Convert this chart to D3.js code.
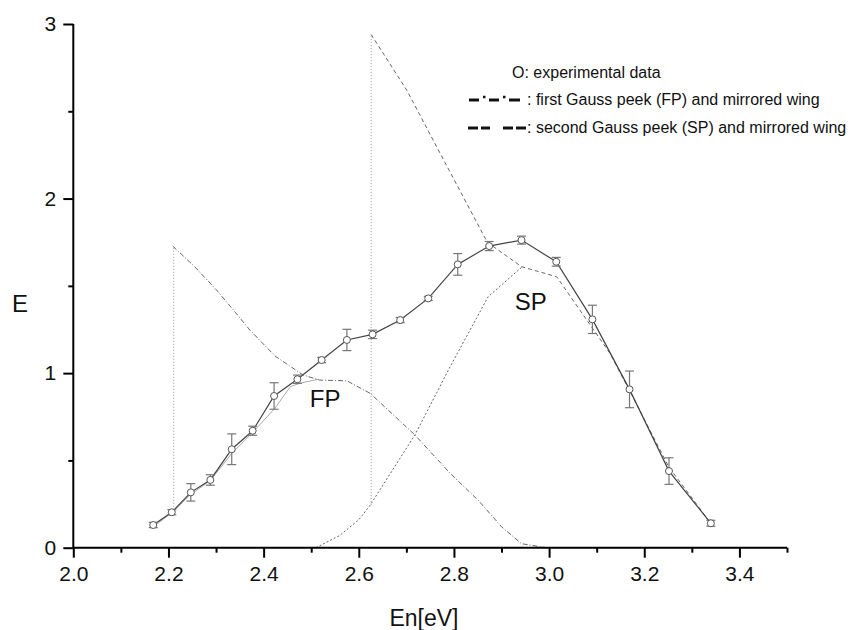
<!DOCTYPE html>
<html>
<head>
<meta charset="utf-8">
<script src="https://cdn.jsdelivr.net/npm/d3@7"></script>
<style>
  html, body { margin: 0; padding: 0; background: #fff; }
  svg { display: block; font-family: "Liberation Sans", Arial, sans-serif; }
</style>
</head>
<body>
<svg id="chart" width="861" height="630"></svg>
<script>
// ---- data ----
const energy    = [2.168, 2.207, 2.247, 2.288, 2.333, 2.377, 2.422, 2.471, 2.522, 2.575, 2.629, 2.687, 2.746, 2.808, 2.874, 2.942, 3.015, 3.091, 3.169, 3.252, 3.340];
const intensity = [0.130, 0.203, 0.317, 0.388, 0.564, 0.670, 0.869, 0.965, 1.075, 1.190, 1.222, 1.304, 1.428, 1.623, 1.728, 1.762, 1.638, 1.308, 0.907, 0.439, 0.140];
const errors    = [0.015, 0.015, 0.050, 0.030, 0.088, 0.026, 0.076, 0.024, 0.015, 0.061, 0.024, 0.015, 0.012, 0.062, 0.026, 0.023, 0.025, 0.081, 0.105, 0.076, 0.017];

// first Gauss peak: rising half (light) and mirrored wing + falling half (dash-dot)
const fpRiseX = [2.168, 2.207, 2.247, 2.288, 2.333, 2.377, 2.424, 2.456, 2.476, 2.515];
const fpRiseY = [0.120, 0.200, 0.305, 0.385, 0.540, 0.660, 0.800, 0.922, 0.942, 0.965];
const fpFallX = [2.209, 2.255, 2.301, 2.340, 2.371, 2.424, 2.483, 2.518, 2.575, 2.624, 2.718, 2.792, 2.852, 2.900, 2.942, 2.994];
const fpFallY = [1.728, 1.610, 1.476, 1.350, 1.247, 1.098, 0.989, 0.960, 0.956, 0.884, 0.646, 0.426, 0.269, 0.120, 0.023, 0.000];

// second Gauss peak: rising half (dotted) and mirrored wing + falling half (dashed)
const spRiseX = [2.510, 2.560, 2.600, 2.624, 2.718, 2.792, 2.872, 2.942];
const spRiseY = [0.000, 0.070, 0.160, 0.244, 0.646, 1.037, 1.438, 1.606];
const spFallX = [2.626, 2.701, 2.771, 2.870, 2.942, 3.016, 3.128, 3.169, 3.252, 3.340];
const spFallY = [2.940, 2.620, 2.259, 1.750, 1.610, 1.552, 1.113, 0.900, 0.460, 0.140];

// vertical marker lines [x, yBottom, yTop]
const markerFP = [2.211, 0.200, 1.728];
const markerSP = [2.626, 0.244, 2.940];

const xMajorTicks = [2.0, 2.2, 2.4, 2.6, 2.8, 3.0, 3.2, 3.4];
const xMinorTicks = [2.1, 2.3, 2.5, 2.7, 2.9, 3.1, 3.3, 3.5];
const yMajorTicks = [0, 1, 2, 3];
const yMinorTicks = [0.5, 1.5, 2.5];

const legendLines = [
  "O: experimental data",
  ": first Gauss peek (FP) and mirrored wing",
  ": second Gauss peek (SP) and mirrored wing"
];
const peakLabels = [{ t: "FP", x: 2.497, y: 0.806 }, { t: "SP", x: 2.928, y: 1.361 }];

// ---- drawing ----
const svg = d3.select("#chart");
const x = d3.scaleLinear().domain([2.0, 3.5]).range([73.3, 787]);
const y = d3.scaleLinear().domain([0, 3]).range([547.7, 24]);

const line = d3.line().x(d => x(d[0])).y(d => y(d[1]));
const zip = (a, b) => a.map((v, i) => [v, b[i]]);

// vertical markers
[markerFP, markerSP].forEach(m => {
  svg.append("line")
    .attr("x1", x(m[0])).attr("x2", x(m[0]))
    .attr("y1", y(m[1])).attr("y2", y(m[2]))
    .attr("stroke", "#999").attr("stroke-width", 1)
    .attr("stroke-dasharray", "1,2");
});

// Gauss curves
svg.append("path").attr("d", line(zip(fpRiseX, fpRiseY)))
  .attr("fill", "none").attr("stroke", "#aaa").attr("stroke-width", 1);
svg.append("path").attr("d", line(zip(fpFallX, fpFallY)))
  .attr("fill", "none").attr("stroke", "#666").attr("stroke-width", 1)
  .attr("stroke-dasharray", "5,2,1,2");
svg.append("path").attr("d", line(zip(spRiseX, spRiseY)))
  .attr("fill", "none").attr("stroke", "#666").attr("stroke-width", 1)
  .attr("stroke-dasharray", "2,2");
svg.append("path").attr("d", line(zip(spFallX, spFallY)))
  .attr("fill", "none").attr("stroke", "#666").attr("stroke-width", 1)
  .attr("stroke-dasharray", "4,3");

// experimental data line
const pts = energy.map((e, i) => ({ e, v: intensity[i], err: errors[i] }));
svg.append("path").attr("d", line(pts.map(p => [p.e, p.v])))
  .attr("fill", "none").attr("stroke", "#444").attr("stroke-width", 1.2);

// error bars
const eb = svg.append("g").attr("stroke", "#777").attr("stroke-width", 1.2);
pts.forEach(p => {
  const cx = x(p.e), y1 = y(p.v - p.err), y2 = y(p.v + p.err);
  eb.append("line").attr("x1", cx).attr("x2", cx).attr("y1", y1).attr("y2", y2);
  eb.append("line").attr("x1", cx - 4.5).attr("x2", cx + 4.5).attr("y1", y1).attr("y2", y1);
  eb.append("line").attr("x1", cx - 4.5).attr("x2", cx + 4.5).attr("y1", y2).attr("y2", y2);
});

// circles
svg.append("g").selectAll("circle").data(pts).join("circle")
  .attr("cx", d => x(d.e)).attr("cy", d => y(d.v)).attr("r", 3.5)
  .attr("fill", "#fff").attr("stroke", "#555").attr("stroke-width", 1);

// axes
const fs = "21px";
const gx = svg.append("g").attr("transform", `translate(0,${y(0)})`)
  .call(d3.axisBottom(x).tickValues(xMajorTicks).tickSize(10).tickPadding(8).tickFormat(d3.format(".1f")));
const gxm = svg.append("g").attr("transform", `translate(0,${y(0)})`)
  .call(d3.axisBottom(x).tickValues(xMinorTicks).tickSize(5).tickFormat(""));
const gy = svg.append("g").attr("transform", `translate(${x(2.0)},0)`)
  .call(d3.axisLeft(y).tickValues(yMajorTicks).tickSize(10).tickPadding(7).tickFormat(d3.format("d")));
const gym = svg.append("g").attr("transform", `translate(${x(2.0)},0)`)
  .call(d3.axisLeft(y).tickValues(yMinorTicks).tickSize(5).tickFormat(""));
[gx, gxm, gy, gym].forEach(g => {
  g.selectAll(".domain").attr("stroke", "#000").attr("stroke-width", 2);
  g.selectAll(".tick line").attr("stroke", "#000").attr("stroke-width", 2);
  g.selectAll("text").attr("font-size", fs).attr("fill", "#111")
    .attr("font-family", "'Liberation Sans', Arial, sans-serif");
});
gxm.select(".domain").remove(); gym.select(".domain").remove();
gx.select(".domain").attr("d", `M${x(2.0)},0H${x(3.5)}`);
gy.select(".domain").attr("d", `M0,${y(0)}V${y(3)}`);

// axis titles
svg.append("text").attr("x", 12).attr("y", 312).attr("font-size", "24px").attr("fill", "#111").text("E");
svg.append("text").attr("x", 424).attr("y", 626).attr("text-anchor", "middle")
  .attr("font-size", "23px").attr("fill", "#111").text("En[eV]");

// peak labels
svg.append("g").selectAll("text").data(peakLabels).join("text")
  .attr("x", d => x(d.x)).attr("y", d => y(d.y))
  .attr("font-size", "24px").attr("fill", "#111").text(d => d.t);

// legend
const lg = svg.append("g").attr("font-size", "16px").attr("fill", "#111");
lg.append("text").attr("x", 512).attr("y", 78).text(legendLines[0]);
lg.append("text").attr("x", 527).attr("y", 105).text(legendLines[1]);
lg.append("text").attr("x", 527).attr("y", 133).text(legendLines[2]);
// legend line symbols
const sym = lg.append("g").attr("stroke", "#111").attr("stroke-width", 3);
[[469, 479], [489, 499], [509, 520]].forEach(s =>
  sym.append("line").attr("x1", s[0]).attr("x2", s[1]).attr("y1", 100).attr("y2", 100));
[[483, 485.5], [503, 505.5]].forEach(s =>
  sym.append("line").attr("x1", s[0]).attr("x2", s[1]).attr("y1", 97).attr("y2", 97).attr("stroke-width", 2.5));
[[468, 478], [481, 490], [503, 513], [516, 526]].forEach(s =>
  sym.append("line").attr("x1", s[0]).attr("x2", s[1]).attr("y1", 128).attr("y2", 128));
</script>
</body>
</html>
